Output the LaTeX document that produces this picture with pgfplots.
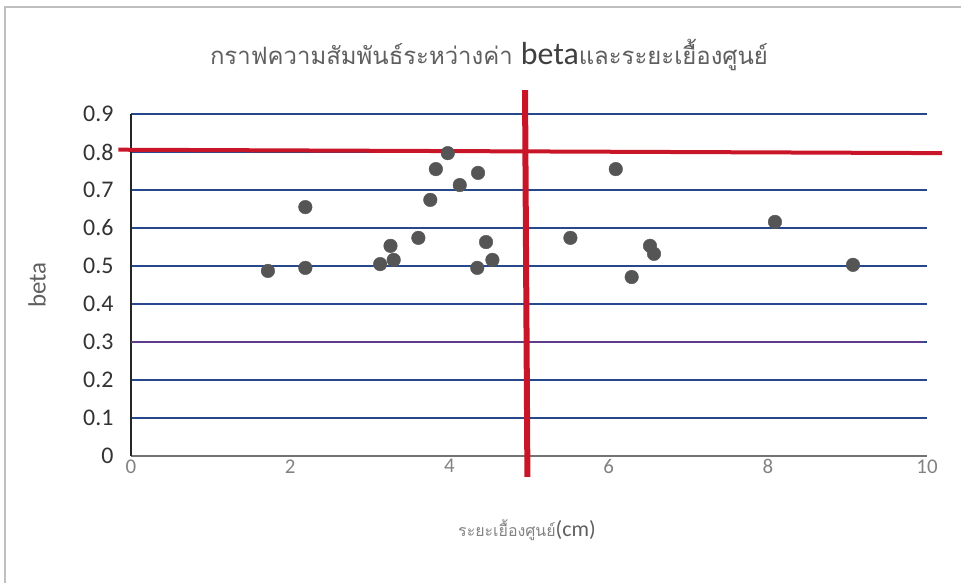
\documentclass[border=0pt]{standalone}
\usepackage{fontspec}
\setmainfont{Carlito}
\newfontfamily\thaifont[Script=Thai]{Loma}
\usepackage{pgfplots}
\pgfplotsset{compat=1.18}
\definecolor{gridblue}{RGB}{40,72,140}
\definecolor{gridpurple}{RGB}{95,60,140}
\definecolor{redline}{RGB}{200,22,40}
\definecolor{ptgray}{RGB}{85,85,85}
\definecolor{txtgray}{RGB}{95,95,95}
\definecolor{lightgray}{RGB}{130,130,130}
\begin{document}
\begin{tikzpicture}[x=1bp,y=1bp]
\path[use as bounding box] (0,0) rectangle (961,583);
\draw[black!25, line width=1.5bp] (5,-10) -- (5,576) -- (975,576);
\node[anchor=base, text=txtgray] at (489,518) {\fontsize{24}{28}\selectfont\thaifont กราฟความสัมพันธ์ระหว่างค่า {\fontsize{32}{36}\selectfont\rmfamily\color{black!75}beta}และระยะเยื้องศูนย์};
\node[anchor=base, text=txtgray] at (527,46) {{\fontsize{16}{20}\selectfont\thaifont\color{lightgray}ระยะเยื้องศูนย์}{\fontsize{22}{26}\selectfont(cm)}};
\node[rotate=90, text=txtgray, font=\fontsize{25}{28}\selectfont] at (37,298) {beta};
\begin{axis}[
  at={(131bp,127bp)}, anchor=south west,
  scale only axis, width=796bp, height=342bp,
  xmin=0, xmax=10, ymin=0, ymax=0.9,
  clip=false,
  axis x line=bottom, axis y line=left,
  axis line style={-},
  x axis line style={draw=black!55, line width=1.2bp},
  y axis line style={draw=black!85, line width=1.8bp},
  xtick={0,2,4,6,8,10},
  ytick={0,0.1,0.2,0.3,0.4,0.5,0.6,0.7,0.8,0.9},
  yticklabels={0,0.1,0.2,0.3,0.4,0.5,0.6,0.7,0.8,0.9},
  major tick length=0pt,
  ymajorgrids, xmajorgrids=false,
  grid style={draw=gridblue, line width=1.8bp},
  /pgf/number format/assume math mode=true,
  xticklabel style={font=\fontsize{21}{24}\selectfont, text=lightgray, yshift=0bp},
  yticklabel style={font=\fontsize{24}{28}\selectfont, text=black!80, xshift=-14bp},
]
\addplot[draw=gridpurple, line width=1.8bp, forget plot] coordinates {(0,0.3) (9.96,0.3)};
\addplot[only marks, mark=*, mark size=6.8bp, mark options={fill=ptgray, draw=ptgray}] coordinates {
(1.72,0.487) (2.19,0.655) (2.19,0.495) (3.13,0.505) (3.26,0.553) (3.30,0.516)
(3.61,0.574) (3.76,0.674) (3.83,0.755) (3.98,0.797) (4.13,0.713) (4.35,0.495)
(4.36,0.745) (4.46,0.563) (4.54,0.516)
(5.52,0.574) (6.09,0.755) (6.29,0.471) (6.52,0.553) (6.57,0.532) (8.09,0.616) (9.07,0.503)
};
\addplot[draw=redline, line width=4bp] coordinates {(-0.16,0.806) (10.19,0.797)};
\addplot[draw=redline, line width=6bp] coordinates {(4.95,0.963) (4.98,-0.055)};
\end{axis}
\end{tikzpicture}
\end{document}
